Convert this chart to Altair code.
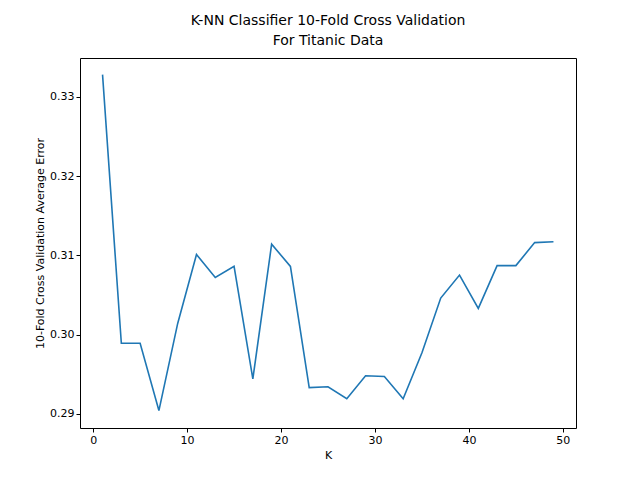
import altair as alt
import pandas as pd

k_values = list(range(1, 50, 2))
avg_error = [0.3328, 0.2989, 0.2989, 0.2904, 0.3014, 0.3101, 0.3072, 0.3086,
             0.2944, 0.3114, 0.3086, 0.2933, 0.2934, 0.2919, 0.2948, 0.2947,
             0.2919, 0.2977, 0.3046, 0.3075, 0.3033, 0.3087, 0.3087, 0.3116, 0.3117]

df = pd.DataFrame({"K": k_values, "err": avg_error})

axis_style = dict(
    grid=False, domain=False, tickColor="black", tickSize=4, labelColor="black",
    titleColor="black", labelFont="DejaVu Sans", titleFont="DejaVu Sans",
    labelFontSize=11, titleFontSize=11, titleFontWeight="normal",
)

chart = (
    alt.Chart(df)
    .mark_line(color="#1f77b4", strokeWidth=1.6)
    .encode(
        x=alt.X("K:Q", title="K",
                scale=alt.Scale(domain=[-1.4, 51.4], nice=False, zero=False),
                axis=alt.Axis(values=[0, 10, 20, 30, 40, 50], **axis_style)),
        y=alt.Y("err:Q", title="10-Fold Cross Validation Average Error",
                scale=alt.Scale(domain=[0.2882, 0.3349], nice=False, zero=False),
                axis=alt.Axis(values=[0.29, 0.30, 0.31, 0.32, 0.33], format=".2f", **axis_style)),
    )
    .properties(
        width=496, height=370,
        title=alt.Title(["K-NN Classifier 10-Fold Cross Validation", "For Titanic Data"],
                        font="DejaVu Sans", fontSize=14, fontWeight="normal", color="black",
                        lineHeight=20, offset=10),
        autosize=alt.AutoSizeParams(type="none"),
        padding={"left": 72, "top": 50, "right": 56, "bottom": 44},
    )
    .configure_view(stroke="black", strokeWidth=1)
)

chart.save("out.html", embed_options={"renderer": "svg", "actions": False})
